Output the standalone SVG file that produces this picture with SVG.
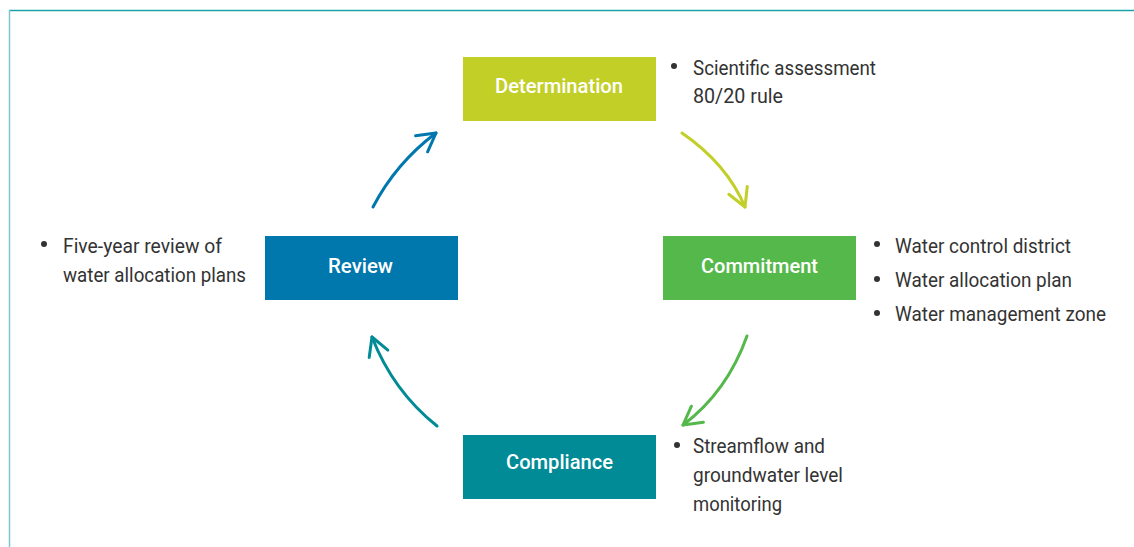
<svg xmlns="http://www.w3.org/2000/svg" width="1134" height="547" viewBox="0 0 1134 547">
<style>
.lbl{font-family:Roboto,"Liberation Sans",sans-serif;font-weight:500;font-size:21px;fill:#fff;}
.txt{font-family:Roboto,"Liberation Sans",sans-serif;font-size:21px;fill:#333;}
.dot{fill:#333;}
.arc{fill:none;stroke-width:3;stroke-linecap:round;}
</style>
<defs>
<marker id="mBlue" markerUnits="userSpaceOnUse" viewBox="-22 -14 26 28" refX="0" refY="0" markerWidth="26" markerHeight="28" orient="auto"><path d="M-18,-10 L0,0 L-18,10" fill="none" stroke="#0077ad" stroke-width="3" stroke-linecap="round" stroke-linejoin="round"/></marker>
<marker id="mLime" markerUnits="userSpaceOnUse" viewBox="-22 -14 26 28" refX="0" refY="0" markerWidth="26" markerHeight="28" orient="auto"><path d="M-18,-10 L0,0 L-18,10" fill="none" stroke="#c2cf26" stroke-width="3" stroke-linecap="round" stroke-linejoin="round"/></marker>
<marker id="mGreen" markerUnits="userSpaceOnUse" viewBox="-22 -14 26 28" refX="0" refY="0" markerWidth="26" markerHeight="28" orient="auto"><path d="M-18,-10 L0,0 L-18,10" fill="none" stroke="#55b84a" stroke-width="3" stroke-linecap="round" stroke-linejoin="round"/></marker>
<marker id="mTeal" markerUnits="userSpaceOnUse" viewBox="-22 -14 26 28" refX="0" refY="0" markerWidth="26" markerHeight="28" orient="auto"><path d="M-18,-10 L0,0 L-18,10" fill="none" stroke="#008b96" stroke-width="3" stroke-linecap="round" stroke-linejoin="round"/></marker>
</defs>
<rect width="1134" height="547" fill="#fff"/>
<g id="frame">
<line x1="9" y1="10.5" x2="1134" y2="10.5" stroke="#1aa3a8" stroke-width="1.5"/>
<line x1="9.5" y1="10" x2="9.5" y2="547" stroke="#7fc6ca" stroke-width="1.5"/>
</g>
<g id="connectors">
<path class="arc" stroke="#0077ad" d="M373,207 Q396,163 436,133" marker-end="url(#mBlue)"/>
<path class="arc" stroke="#c2cf26" d="M682,133 Q727,164 745,207" marker-end="url(#mLime)"/>
<path class="arc" stroke="#55b84a" d="M747,336 Q727,392 683,425" marker-end="url(#mGreen)"/>
<path class="arc" stroke="#008b96" d="M437,426 Q393,391 372,337" marker-end="url(#mTeal)"/>
</g>
<g id="determination">
<rect x="463" y="57" width="193" height="64" fill="#c2cf26"/>
<text class="lbl" x="495" y="93" textLength="128" lengthAdjust="spacingAndGlyphs">Determination</text>
<circle class="dot" cx="674" cy="66" r="3"/>
<text class="txt" x="693" y="75" textLength="183" lengthAdjust="spacingAndGlyphs">Scientific assessment</text>
<text class="txt" x="693" y="103" textLength="90" lengthAdjust="spacingAndGlyphs">80/20 rule</text>
</g>
<g id="commitment">
<rect x="663" y="236" width="193" height="64" fill="#55b84a"/>
<text class="lbl" x="701" y="273" textLength="117" lengthAdjust="spacingAndGlyphs">Commitment</text>
<circle class="dot" cx="877" cy="244" r="3"/>
<text class="txt" x="895" y="253" textLength="176" lengthAdjust="spacingAndGlyphs">Water control district</text>
<circle class="dot" cx="877" cy="279" r="3"/>
<text class="txt" x="895" y="287" textLength="177" lengthAdjust="spacingAndGlyphs">Water allocation plan</text>
<circle class="dot" cx="877" cy="313" r="3"/>
<text class="txt" x="895" y="321" textLength="211" lengthAdjust="spacingAndGlyphs">Water management zone</text>
</g>
<g id="compliance">
<rect x="463" y="435" width="193" height="64" fill="#008b96"/>
<text class="lbl" x="506" y="469" textLength="107" lengthAdjust="spacingAndGlyphs">Compliance</text>
<circle class="dot" cx="677" cy="445" r="3"/>
<text class="txt" x="693" y="453" textLength="132" lengthAdjust="spacingAndGlyphs">Streamflow and</text>
<text class="txt" x="693" y="482" textLength="150" lengthAdjust="spacingAndGlyphs">groundwater level</text>
<text class="txt" x="693" y="511" textLength="89" lengthAdjust="spacingAndGlyphs">monitoring</text>
</g>
<g id="review">
<rect x="265" y="236" width="193" height="64" fill="#0077ad"/>
<text class="lbl" x="328" y="273" textLength="65" lengthAdjust="spacingAndGlyphs">Review</text>
<circle class="dot" cx="44" cy="244" r="3"/>
<text class="txt" x="63" y="253" textLength="159" lengthAdjust="spacingAndGlyphs">Five-year review of</text>
<text class="txt" x="63" y="282" textLength="183" lengthAdjust="spacingAndGlyphs">water allocation plans</text>
</g>
</svg>
